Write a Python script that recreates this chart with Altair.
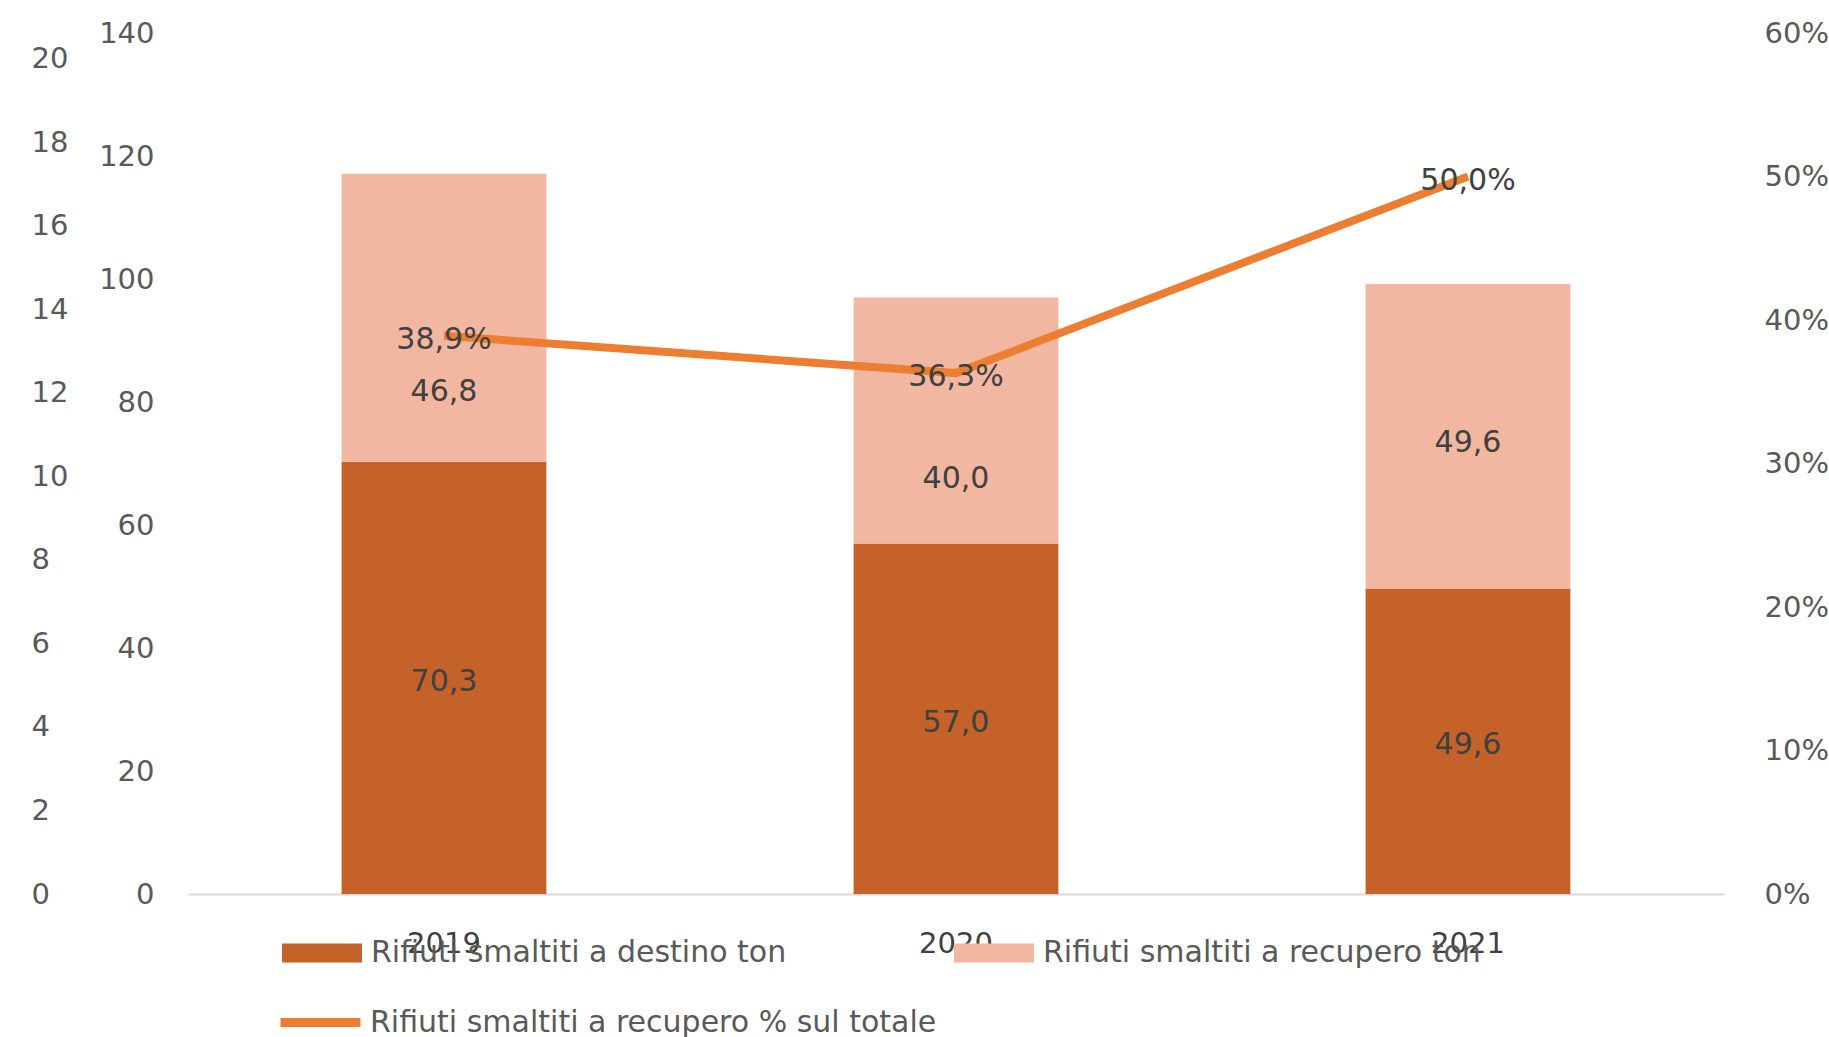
import altair as alt
import pandas as pd

# ---------------- data ----------------
years = ["2019", "2020", "2021"]
destino_ton = [70.3, 57.0, 49.6]
recupero_ton = [46.8, 40.0, 49.6]
recupero_pct = [0.389, 0.363, 0.500]

series_names = ["Rifiuti smaltiti a destino ton", "Rifiuti smaltiti a recupero ton"]
line_name = "Rifiuti smaltiti a recupero % sul totale"

ghost_ticks = [0, 2, 4, 6, 8, 10, 12, 14, 16, 18, 20]
ton_ticks = [0, 20, 40, 60, 80, 100, 120, 140]
pct_ticks = [0, 0.1, 0.2, 0.3, 0.4, 0.5, 0.6]

# ---------------- styles ----------------
FONT = "DejaVu Sans"
AXIS_COL = "#595959"
LABEL_COL = "#404040"
DARK = "#C4622A"
LIGHT = "#F2B7A1"
LINE = "#ED7D31"
LBL_SIZE = 30
BASE_DY = 4
light_label_dy = {"2019": 74, "2020": 59, "2021": 7}

bars_df = pd.DataFrame(
    [{"year": y, "series": series_names[0], "value": v, "order": 0} for y, v in zip(years, destino_ton)]
    + [{"year": y, "series": series_names[1], "value": v, "order": 1} for y, v in zip(years, recupero_ton)]
)
line_df = pd.DataFrame({"year": years, "pct": recupero_pct, "name": [line_name] * len(years)})
ghost_df = pd.DataFrame({"v": ghost_ticks})

x_enc = alt.X(
    "year:N",
    sort=years,
    scale=alt.Scale(paddingInner=0.6, paddingOuter=0.3),
    axis=alt.Axis(
        title=None, labelAngle=0, ticks=False, tickSize=0, labelPadding=49,
        labelBaseline="middle", labelFont=FONT, labelFontSize=29, labelColor=LABEL_COL,
        domainColor="#D9D9D9", domainWidth=2, grid=False,
    ),
)

# ghost left axis 0-20
ghost = alt.Chart(ghost_df).mark_tick(opacity=0).encode(
    y=alt.Y(
        "v:Q",
        scale=alt.Scale(domain=[0, 20.61], nice=False, zero=True),
        axis=alt.Axis(
            orient="left", values=ghost_ticks, title=None, ticks=False, tickSize=0,
            domain=False, grid=False, labelAlign="left", labelPadding=157,
            labelFont=FONT, labelFontSize=29, labelColor=AXIS_COL, labelOverlap=False,
            labelFlush=False,
        ),
    )
)

ton_axis = alt.Axis(
    orient="left", values=ton_ticks, title=None, ticks=False, tickSize=0,
    domain=False, grid=False, labelPadding=34, labelFont=FONT, labelFontSize=29,
    labelColor=AXIS_COL, labelOverlap=False, labelFlush=False,
)
ton_scale = alt.Scale(domain=[0, 140], nice=False, zero=True)

base_bars = alt.Chart(bars_df)

bars = base_bars.mark_bar().encode(
    x=x_enc,
    y=alt.Y("value:Q", stack="zero", scale=ton_scale, axis=ton_axis),
    fill=alt.Fill(
        "series:N",
        scale=alt.Scale(domain=series_names, range=[DARK, LIGHT]),
        legend=alt.Legend(
            title=None, orient="none", direction="horizontal", legendX=94, legendY=880,
            symbolType="M-1,-0.24H1V0.24H-1Z", symbolSize=6400, symbolStrokeWidth=0,
            labelFont=FONT, labelFontSize=LBL_SIZE, labelColor=AXIS_COL, labelLimit=2000,
            labelOffset=9, columnPadding=167,
        ),
    ),
    order=alt.Order("order:Q"),
)

stacked = base_bars.transform_stack(
    stack="value", groupby=["year"], as_=["v0", "v1"], sort=[alt.SortField("order")]
).transform_calculate(
    mid="(datum.v0 + datum.v1) / 2",
    lab="replace(format(datum.value, '.1f'), '.', ',')",
)

label_layers = []
dark_labels = stacked.transform_filter(alt.datum.order == 0).mark_text(
    font=FONT, fontSize=LBL_SIZE, color=LABEL_COL, dy=BASE_DY
).encode(x=x_enc, y=alt.Y("mid:Q", scale=ton_scale, axis=ton_axis), text="lab:N")
label_layers.append(dark_labels)
for yr in years:
    label_layers.append(
        stacked.transform_filter((alt.datum.order == 1) & (alt.datum.year == yr)).mark_text(
            font=FONT, fontSize=LBL_SIZE, color=LABEL_COL, dy=light_label_dy[yr]
        ).encode(x=x_enc, y=alt.Y("mid:Q", scale=ton_scale, axis=ton_axis), text="lab:N")
    )

bar_layer = alt.layer(bars, *label_layers)

pct_axis = alt.Axis(
    orient="right", values=pct_ticks, format=".0%", title=None, ticks=False, tickSize=0,
    domain=False, grid=False, labelPadding=40, labelFont=FONT, labelFontSize=29,
    labelColor=AXIS_COL, labelOverlap=False, labelFlush=False,
)
pct_scale = alt.Scale(domain=[0, 0.6], nice=False, zero=True)

base_line = alt.Chart(line_df)
line = base_line.mark_line(strokeWidth=8).encode(
    x=x_enc,
    y=alt.Y("pct:Q", scale=pct_scale, axis=pct_axis),
    stroke=alt.Stroke(
        "name:N",
        scale=alt.Scale(domain=[line_name], range=[LINE]),
        legend=alt.Legend(
            title=None, orient="none", direction="horizontal", legendX=88, legendY=945,
            symbolType="M-1,0H1", symbolSize=6400, symbolStrokeWidth=9,
            labelFont=FONT, labelFontSize=LBL_SIZE, labelColor=AXIS_COL, labelLimit=2000,
            labelOffset=5,
        ),
    ),
)
line_labels = base_line.transform_calculate(
    lab="replace(format(datum.pct * 100, '.1f'), '.', ',') + '%'"
).mark_text(font=FONT, fontSize=LBL_SIZE, color=LABEL_COL, dy=BASE_DY).encode(
    x=x_enc, y=alt.Y("pct:Q", scale=pct_scale, axis=pct_axis), text="lab:N"
)
line_layer = alt.layer(line, line_labels)

chart = alt.layer(ghost, bar_layer, line_layer).resolve_scale(
    y="independent", fill="independent", stroke="independent"
).properties(
    width=1536,
    height=861,
    autosize=alt.AutoSizeParams(type="none"),
    padding={"left": 188, "top": 33, "right": 105, "bottom": 143},
    background="white",
).configure_view(stroke=None)

chart.save("out.html", embed_options={"renderer": "svg", "actions": False})
